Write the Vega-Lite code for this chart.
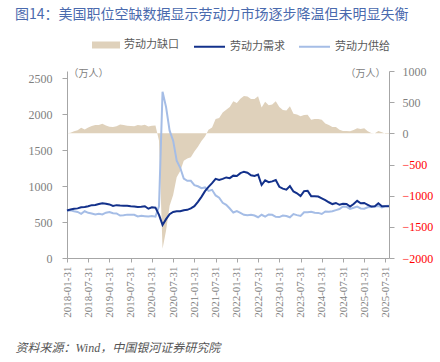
{
  "$schema": "https://vega.github.io/schema/vega-lite/v6.json",
  "width": 322,
  "height": 187,
  "autosize": {"type": "none"},
  "padding": {"left": 67, "top": 71, "right": 51, "bottom": 104},
  "background": "white",
  "title": {
    "text": "图14：美国职位空缺数据显示劳动力市场逐步降温但未明显失衡",
    "anchor": "start",
    "frame": "group",
    "dx": -52,
    "offset": 8,
    "fontSize": 14,
    "fontWeight": "normal",
    "font": "Noto Sans CJK SC",
    "color": "#4a6aae"
  },
  "config": {
    "view": {"stroke": null},
    "font": "Liberation Serif, Noto Sans CJK SC",
    "axis": {
      "grid": false,
      "domainColor": "#a6a6a6",
      "tickColor": "#a6a6a6",
      "tickSize": 5,
      "labelColor": "#808080",
      "labelFont": "Liberation Serif, Noto Sans CJK SC",
      "labelFontSize": 12,
      "labelOverlap": false,
      "titleFont": "Noto Sans CJK SC",
      "titleFontWeight": "normal",
      "titleColor": "#808080"
    }
  },
  "data": {
    "values": [
      {"d": "2018-01-31", "demand": 660, "supply": 660, "gap": 0},
      {"d": "2018-02-28", "demand": 675, "supply": 665, "gap": 10},
      {"d": "2018-03-31", "demand": 685, "supply": 650, "gap": 35},
      {"d": "2018-04-30", "demand": 690, "supply": 640, "gap": 50},
      {"d": "2018-05-31", "demand": 705, "supply": 615, "gap": 90},
      {"d": "2018-06-30", "demand": 710, "supply": 650, "gap": 60},
      {"d": "2018-07-31", "demand": 720, "supply": 628, "gap": 92},
      {"d": "2018-08-31", "demand": 735, "supply": 618, "gap": 117},
      {"d": "2018-09-30", "demand": 738, "supply": 605, "gap": 133},
      {"d": "2018-10-31", "demand": 750, "supply": 615, "gap": 135},
      {"d": "2018-11-30", "demand": 760, "supply": 605, "gap": 155},
      {"d": "2018-12-31", "demand": 755, "supply": 630, "gap": 125},
      {"d": "2019-01-31", "demand": 745, "supply": 640, "gap": 105},
      {"d": "2019-02-28", "demand": 725, "supply": 622, "gap": 103},
      {"d": "2019-03-31", "demand": 735, "supply": 620, "gap": 115},
      {"d": "2019-04-30", "demand": 730, "supply": 590, "gap": 140},
      {"d": "2019-05-31", "demand": 728, "supply": 595, "gap": 133},
      {"d": "2019-06-30", "demand": 725, "supply": 603, "gap": 122},
      {"d": "2019-07-31", "demand": 718, "supply": 600, "gap": 118},
      {"d": "2019-08-31", "demand": 715, "supply": 600, "gap": 115},
      {"d": "2019-09-30", "demand": 710, "supply": 578, "gap": 132},
      {"d": "2019-10-31", "demand": 712, "supply": 586, "gap": 126},
      {"d": "2019-11-30", "demand": 720, "supply": 581, "gap": 139},
      {"d": "2019-12-31", "demand": 685, "supply": 577, "gap": 108},
      {"d": "2020-01-31", "demand": 705, "supply": 585, "gap": 120},
      {"d": "2020-02-29", "demand": 700, "supply": 575, "gap": 125},
      {"d": "2020-03-31", "demand": 600, "supply": 718, "gap": -118},
      {"d": "2020-04-30", "demand": 460, "supply": 2311, "gap": -1851},
      {"d": "2020-05-31", "demand": 540, "supply": 2098, "gap": -1558},
      {"d": "2020-06-30", "demand": 610, "supply": 1770, "gap": -1160},
      {"d": "2020-07-31", "demand": 640, "supply": 1631, "gap": -991},
      {"d": "2020-08-31", "demand": 650, "supply": 1354, "gap": -704},
      {"d": "2020-09-30", "demand": 650, "supply": 1254, "gap": -604},
      {"d": "2020-10-31", "demand": 665, "supply": 1105, "gap": -440},
      {"d": "2020-11-30", "demand": 670, "supply": 1073, "gap": -403},
      {"d": "2020-12-31", "demand": 690, "supply": 1074, "gap": -384},
      {"d": "2021-01-31", "demand": 720, "supply": 1013, "gap": -293},
      {"d": "2021-02-28", "demand": 780, "supply": 997, "gap": -217},
      {"d": "2021-03-31", "demand": 850, "supply": 971, "gap": -121},
      {"d": "2021-04-30", "demand": 930, "supply": 981, "gap": -51},
      {"d": "2021-05-31", "demand": 990, "supply": 932, "gap": 58},
      {"d": "2021-06-30", "demand": 1040, "supply": 948, "gap": 92},
      {"d": "2021-07-31", "demand": 1100, "supply": 870, "gap": 230},
      {"d": "2021-08-31", "demand": 1085, "supply": 838, "gap": 247},
      {"d": "2021-09-30", "demand": 1100, "supply": 767, "gap": 333},
      {"d": "2021-10-31", "demand": 1120, "supply": 740, "gap": 380},
      {"d": "2021-11-30", "demand": 1110, "supply": 688, "gap": 422},
      {"d": "2021-12-31", "demand": 1145, "supply": 632, "gap": 513},
      {"d": "2022-01-31", "demand": 1140, "supply": 652, "gap": 488},
      {"d": "2022-02-28", "demand": 1180, "supply": 627, "gap": 553},
      {"d": "2022-03-31", "demand": 1200, "supply": 600, "gap": 600},
      {"d": "2022-04-30", "demand": 1185, "supply": 595, "gap": 590},
      {"d": "2022-05-31", "demand": 1150, "supply": 600, "gap": 550},
      {"d": "2022-06-30", "demand": 1140, "supply": 591, "gap": 549},
      {"d": "2022-07-31", "demand": 1160, "supply": 567, "gap": 593},
      {"d": "2022-08-31", "demand": 1015, "supply": 601, "gap": 414},
      {"d": "2022-09-30", "demand": 1080, "supply": 575, "gap": 505},
      {"d": "2022-10-31", "demand": 1055, "supply": 605, "gap": 450},
      {"d": "2022-11-30", "demand": 1065, "supply": 601, "gap": 464},
      {"d": "2022-12-31", "demand": 1085, "supply": 572, "gap": 513},
      {"d": "2023-01-31", "demand": 990, "supply": 569, "gap": 421},
      {"d": "2023-02-28", "demand": 965, "supply": 591, "gap": 374},
      {"d": "2023-03-31", "demand": 950, "supply": 584, "gap": 366},
      {"d": "2023-04-30", "demand": 1000, "supply": 566, "gap": 434},
      {"d": "2023-05-31", "demand": 925, "supply": 610, "gap": 315},
      {"d": "2023-06-30", "demand": 900, "supply": 596, "gap": 304},
      {"d": "2023-07-31", "demand": 860, "supply": 584, "gap": 276},
      {"d": "2023-08-31", "demand": 930, "supply": 636, "gap": 294},
      {"d": "2023-09-30", "demand": 935, "supply": 635, "gap": 300},
      {"d": "2023-10-31", "demand": 860, "supply": 644, "gap": 216},
      {"d": "2023-11-30", "demand": 860, "supply": 629, "gap": 231},
      {"d": "2023-12-31", "demand": 855, "supply": 627, "gap": 228},
      {"d": "2024-01-31", "demand": 830, "supply": 612, "gap": 218},
      {"d": "2024-02-29", "demand": 805, "supply": 646, "gap": 159},
      {"d": "2024-03-31", "demand": 775, "supply": 643, "gap": 132},
      {"d": "2024-04-30", "demand": 750, "supply": 649, "gap": 101},
      {"d": "2024-05-31", "demand": 765, "supply": 665, "gap": 100},
      {"d": "2024-06-30", "demand": 740, "supply": 681, "gap": 59},
      {"d": "2024-07-31", "demand": 755, "supply": 716, "gap": 39},
      {"d": "2024-08-31", "demand": 750, "supply": 712, "gap": 38},
      {"d": "2024-09-30", "demand": 715, "supply": 683, "gap": 32},
      {"d": "2024-10-31", "demand": 750, "supply": 698, "gap": 52},
      {"d": "2024-11-30", "demand": 795, "supply": 715, "gap": 80},
      {"d": "2024-12-31", "demand": 760, "supply": 689, "gap": 71},
      {"d": "2025-01-31", "demand": 765, "supply": 685, "gap": 80},
      {"d": "2025-02-28", "demand": 740, "supply": 705, "gap": 35},
      {"d": "2025-03-31", "demand": 715, "supply": 708, "gap": 7},
      {"d": "2025-04-30", "demand": 718, "supply": 716, "gap": 2},
      {"d": "2025-05-31", "demand": 760, "supply": 724, "gap": 36},
      {"d": "2025-06-30", "demand": 720, "supply": 702, "gap": 18},
      {"d": "2025-07-31", "demand": 718, "supply": 724, "gap": -6},
      {"d": "2025-08-31", "demand": 720, "supply": 725, "gap": -5}
    ]
  },
  "encoding": {
    "x": {
      "field": "d",
      "type": "ordinal",
      "scale": {"type": "point", "padding": 0},
      "axis": {
        "values": ["2018-01-31", "2018-07-31", "2019-01-31", "2019-07-31", "2020-01-31", "2020-07-31", "2021-01-31", "2021-07-31", "2022-01-31", "2022-07-31", "2023-01-31", "2023-07-31", "2024-01-31", "2024-07-31", "2025-01-31", "2025-07-31"],
        "labelAngle": -90,
        "labelFontSize": 11,
        "labelPadding": 4,
        "tickSize": 4,
        "title": "资料来源：Wind，中国银河证券研究院",
        "titleFont": "Liberation Serif, Noto Sans CJK SC",
        "titleFontStyle": "italic",
        "titleFontSize": 12,
        "titleColor": "#555555",
        "titleAnchor": "start",
        "titleAlign": "left",
        "titleBaseline": "middle",
        "titleX": -52,
        "titleY": 89
      }
    }
  },
  "layer": [
    {
      "mark": {"type": "area", "opacity": 1},
      "encoding": {
        "y": {
          "field": "gap",
          "type": "quantitative",
          "scale": {"domain": [-2000, 1000]},
          "axis": {
            "orient": "right",
            "values": [-2000, -1500, -1000, -500, 0, 500, 1000],
            "format": "d",
            "labelPadding": 8,
            "labelColor": {"condition": {"test": "datum.value < 0", "value": "#ff0000"}, "value": "#808080"},
            "title": "（万人）",
            "titleAngle": 0,
            "titleFontSize": 10,
            "titleAlign": "right",
            "titleBaseline": "middle",
            "titleX": -4,
            "titleY": 2
          }
        },
        "fill": {
          "datum": "劳动力缺口",
          "type": "nominal",
          "scale": {"domain": ["劳动力缺口"], "range": ["#dfd1bb"]},
          "legend": {
            "orient": "none",
            "legendX": 25,
            "legendY": -40,
            "title": null,
            "symbolType": "M-1,-0.25L1,-0.25L1,0.25L-1,0.25Z",
            "symbolSize": 784,
            "symbolStrokeWidth": 0,
            "labelFont": "Noto Sans CJK SC",
            "labelFontSize": 11,
            "labelColor": "#595959"
          }
        }
      }
    },
    {
      "layer": [
        {
          "mark": {"type": "line", "strokeWidth": 2},
          "encoding": {
            "y": {
              "field": "supply",
              "type": "quantitative",
              "scale": {"domain": [0, 2500]},
              "axis": {
                "orient": "left",
                "values": [0, 500, 1000, 1500, 2000, 2500],
                "format": "d",
                "labelPadding": 10,
                "title": "（万人）",
                "titleAngle": 0,
                "titleFontSize": 10,
                "titleAlign": "left",
                "titleBaseline": "middle",
                "titleX": 1,
                "titleY": 2
              }
            },
            "stroke": {
              "datum": "劳动力供给",
              "type": "nominal",
              "scale": {"domain": ["劳动力需求", "劳动力供给"], "range": ["#13318b", "#a5bde6"]},
              "legend": {
                "orient": "none",
                "legendX": 126,
                "legendY": -41,
                "direction": "horizontal",
                "title": null,
                "symbolType": "stroke",
                "symbolSize": 961,
                "symbolStrokeWidth": 2,
                "columnPadding": 10,
                "labelFont": "Noto Sans CJK SC",
                "labelFontSize": 11,
                "labelColor": "#595959"
              }
            }
          }
        },
        {
          "mark": {"type": "line", "strokeWidth": 2},
          "encoding": {
            "y": {"field": "demand", "type": "quantitative", "axis": {"orient": "left", "values": [0, 500, 1000, 1500, 2000, 2500], "format": "d", "labelPadding": 10, "title": "（万人）", "titleAngle": 0, "titleFontSize": 10, "titleAlign": "left", "titleBaseline": "middle", "titleX": 1, "titleY": 2}},
            "stroke": {"datum": "劳动力需求", "type": "nominal"}
          }
        }
      ]
    }
  ],
  "resolve": {"scale": {"y": "independent"}}
}
